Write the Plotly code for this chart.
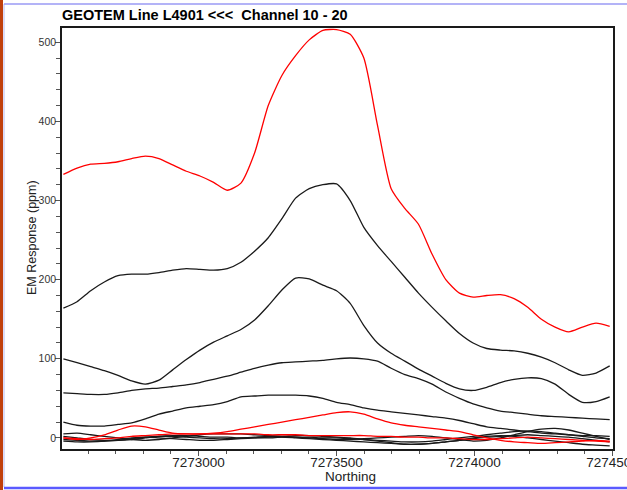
import plotly.graph_objects as go

# northing stations (m) and channel responses (ppm)
northing = [7272510 + 49.5 * i for i in range(41)]

ch10 = [333, 341, 346, 347, 349, 353, 356, 353, 345, 337, 331, 323, 313, 322, 360, 420, 458, 483, 503, 515, 516,
        510, 480, 395, 315, 290, 270, 232, 200, 183, 178, 180, 181, 176, 165, 150, 140, 134, 140, 145, 141]
ch11 = [164, 172, 186, 197, 205, 207, 207, 209, 212, 214, 213, 212, 214, 222, 236, 253, 277, 303, 315, 320, 321,
        300, 266, 243, 223, 203, 183, 165, 148, 132, 120, 113, 111, 110, 107, 102, 95, 86, 79, 82, 91]
ch12 = [100, 95, 90, 85, 79, 72, 68, 73, 86, 99, 111, 121, 129, 137, 149, 167, 187, 202, 201, 193, 186,
        170, 142, 120, 107, 97, 87, 78, 69, 62, 60, 64, 70, 74, 76, 75, 68, 55, 45, 46, 52]
ch13 = [57, 56, 55, 55, 57, 60, 62, 63, 65, 67, 70, 74, 78, 83, 88, 92, 95, 96, 97, 98, 100,
        101, 100, 97, 88, 80, 75, 68, 58, 50, 43, 38, 34, 32, 30, 28, 27, 26, 25, 24, 23]
ch14 = [20, 16, 15, 15, 17, 19, 24, 30, 34, 38, 40, 42, 46, 52, 53, 54, 54, 54, 53, 50, 45,
        42, 38, 35, 33, 31, 29, 27, 25, 22, 18, 14, 12, 10, 8, 6, 5, 4, 3, 3, 2]
ch15 = [0, -2, 0, 4, 10, 15, 14, 10, 6, 5, 5, 6, 8, 11, 14, 17, 20, 23, 26, 29, 32,
        33, 30, 24, 19, 16, 14, 12, 10, 8, 4, 0, -3, -5, -6, -7, -6, -5, -4, -3, -4]
ch16 = [5, 6, 4, 2, 0, -2, -3, -2, 0, 2, 4, 5, 5, 5, 4, 3, 2, 1, 0, -1, -2,
        -2, -1, 0, 1, 2, 3, 2, 0, -2, -4, -3, 0, 4, 8, 11, 12, 10, 6, 2, -2]
ch17 = [2, 0, -2, -3, -3, -2, 0, 2, 3, 3, 2, 1, 1, 0, 0, 0, 1, 1, 1, 0, 0,
        -1, -2, -3, -4, -5, -5, -4, -2, 0, 2, 4, 6, 8, 9, 8, 6, 4, 2, 0, -1]
ch18 = [-2, -3, -4, -4, -3, -1, 1, 2, 2, 1, 0, -1, -1, 0, 1, 2, 2, 3, 3, 2, 1,
        0, -2, -4, -6, -8, -8, -7, -5, -3, -1, 1, 2, 3, 4, 3, 2, 1, -1, -3, -5]
ch19 = [-4, -5, -5, -4, -2, 0, 1, 0, -1, -2, -3, -3, -2, -1, 0, 1, 1, 0, -1, -2, -3,
        -4, -5, -6, -7, -8, -8, -7, -5, -3, 0, 2, 3, 2, 0, -2, -4, -6, -8, -9, -10]
ch20 = [0, -1, -2, -1, 0, 2, 3, 4, 5, 5, 5, 5, 5, 5, 5, 4, 4, 4, 3, 3, 3,
        3, 3, 2, 2, 1, 1, 0, 0, -1, -2, -2, -1, 0, 1, 0, -1, -2, -3, -4, -5]

channels = [ch10, ch11, ch12, ch13, ch14, ch15, ch16, ch17, ch18, ch19, ch20]
names = ["Ch %d" % c for c in range(10, 21)]
x_ticks = [7273000, 7273500, 7274000, 7274500]

fig = go.Figure()
# draw the black channels first so the red ones (every 5th) sit on top
order = [1, 2, 3, 4, 6, 7, 8, 9, 0, 5, 10]
for k in order:
    red = k in (0, 5, 10)
    fig.add_trace(go.Scatter(
        x=northing, y=channels[k], name=names[k], mode="lines",
        line=dict(color="#ff0000" if red else "#1a1a1a", width=1.3, shape="spline", smoothing=0.6),
    ))

frame = dict(showline=True, linecolor="#1a1a1a", linewidth=1.5, mirror=True, automargin=False,
             showgrid=False, zeroline=False, ticks="outside", tickcolor="#555")

fig.update_xaxes(frame, range=[7272505, 7274502], tickvals=x_ticks,
                 ticktext=[str(v) for v in x_ticks], ticklen=5, ticklabelstandoff=-5,
                 ticklabeloverflow="allow",
                 tickfont=dict(family="Arial", size=13.5, color="#222"),
                 minor=dict(ticks="outside", dtick=100, tick0=7272500, ticklen=3, tickcolor="#555"))
fig.update_yaxes(frame, range=[-14, 518], tickvals=[0, 100, 200, 300, 400, 500], ticklen=5,
                 ticklabelstandoff=-3,
                 tickfont=dict(family="Arial", size=10.5, color="#333"),
                 minor=dict(ticks="outside", dtick=20, tick0=0, ticklen=4, tickcolor="#555"))

# page decorations around the plot (paper coords relative to the plot area)
L, T, W, H = 62, 28, 551, 421


def px(xp):
    return (xp - L) / W


def py(yp):
    return (T + H - yp) / H


fig.update_layout(
    width=627, height=490,
    margin=dict(l=L, r=627 - L - W, t=T, b=490 - T - H),
    paper_bgcolor="white", plot_bgcolor="white",
    showlegend=False,
    title=dict(text="<b>GEOTEM Line L4901 &lt;&lt;&lt;  Channel 10 - 20</b>", xref="container", yref="container",
               x=L / 627, xanchor="left", y=1 - 15 / 490, yanchor="middle",
               font=dict(family="Arial", size=14.5, color="black")),
    annotations=[
        dict(text="Northing", xref="paper", yref="paper", x=px(350), y=py(476), showarrow=False,
             xanchor="center", yanchor="middle",
             font=dict(family="Arial", size=13.5, color="#222")),
        dict(text="EM Response (ppm)", xref="paper", yref="paper", x=px(32), y=py(238), showarrow=False,
             xanchor="center", yanchor="middle", textangle=-90,
             font=dict(family="Arial", size=12.5, color="#222")),
    ],
    shapes=[
        dict(type="rect", xref="paper", yref="paper", x0=px(0), x1=px(3), y0=py(490), y1=py(0),
             fillcolor="#c0400c", line=dict(width=0)),
        dict(type="line", xref="paper", yref="paper", x0=px(4), x1=px(4), y0=py(487), y1=py(4),
             line=dict(color="#b8b8f0", width=1)),
        dict(type="line", xref="paper", yref="paper", x0=px(4), x1=px(627), y0=py(4), y1=py(4),
             line=dict(color="#9a9af5", width=1.5)),
        dict(type="line", xref="paper", yref="paper", x0=px(4), x1=px(627), y0=py(488), y1=py(488),
             line=dict(color="#5a5aff", width=2.5)),
    ],
)

# the page body has a default margin; drop it so the figure fills the window
fig.write_html("out.html", config={"displayModeBar": False},
               post_script="document.body.style.margin='0';")
